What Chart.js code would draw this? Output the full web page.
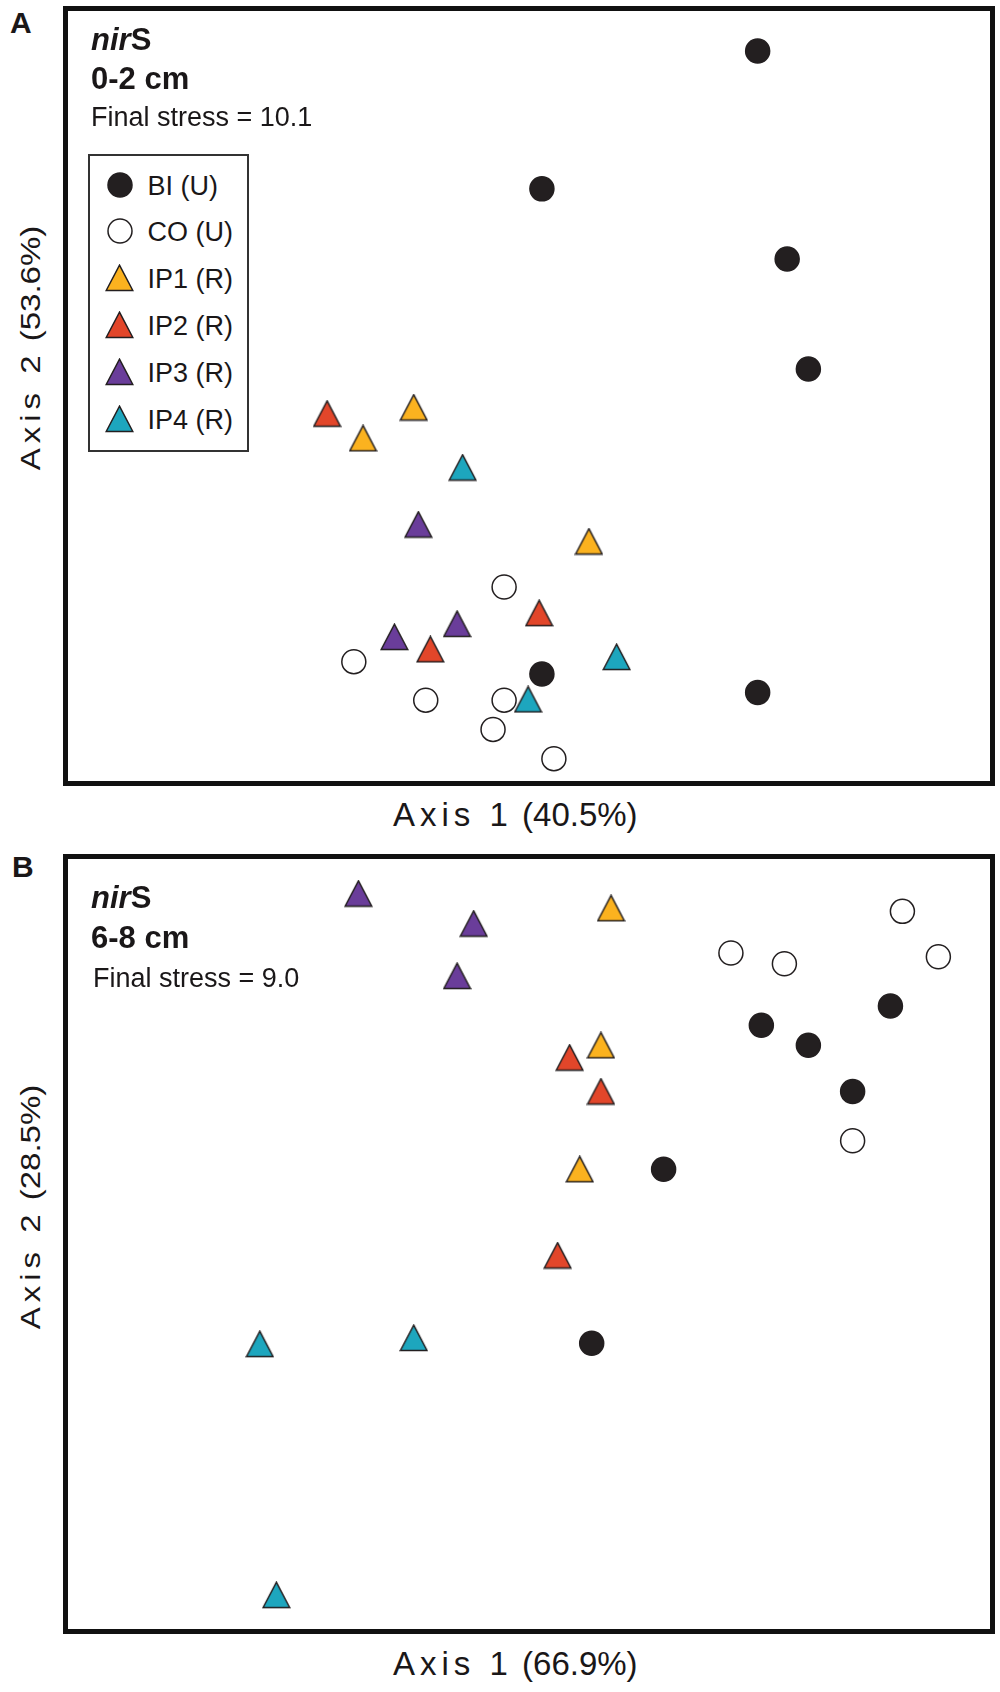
<!DOCTYPE html>
<html lang="en">
<head>
  <meta charset="UTF-8">
  <meta name="viewport" content="width=device-width, initial-scale=1.0">
  <title>nirS NMDS</title>
  <style>
    html, body { margin: 0; padding: 0; background: #fff; }
    body {
      width: 1000px; height: 1692px; position: relative; overflow: hidden;
      font-family: "Liberation Sans", Arial, Helvetica, sans-serif; color: #1a1718;
    }
    .panel {
      position: absolute; left: 63px; width: 932px; height: 780px;
      box-sizing: border-box; border: 5px solid #111;
    }
    .plot { position: absolute; left: 0; top: 0; width: 922px; height: 770px; }
    .txt { position: absolute; white-space: nowrap; line-height: 1; }
    .letter { font-weight: bold; font-size: 30px; }
    .head { font-weight: bold; font-size: 31px; }
    .stress { font-size: 27px; }
    .xtitle { font-size: 33px; }
    .ytitle { font-size: 33px; transform: translate(-50%, -50%) rotate(-90deg) scaleY(0.85); }
    .spaced { letter-spacing: 5px; }
    .legend {
      position: absolute; left: 88px; top: 154px; width: 161px; height: 298px;
      box-sizing: border-box; border: 2.5px solid #333; background: #fff;
    }
    .legend-row {
      position: absolute; left: 0; height: 28px; display: flex; align-items: center;
      font-size: 27px; line-height: 28px; white-space: nowrap;
    }
    .legend-row canvas { position: absolute; }
  </style>
</head>
<body>
  <div class="txt letter" style="left:10px; top:8px;">A</div>
  <div class="panel" style="top:6px;">
    <div class="plot"><canvas id="surface"></canvas></div>
  </div>
  <div class="txt head" style="left:91px; top:24px;"><i>nir</i>S</div>
  <div class="txt head" style="left:91px; top:63px;">0-2 cm</div>
  <div class="txt stress" style="left:91px; top:104px;">Final stress = 10.1</div>
  <div class="legend" id="legend"></div>
  <div class="txt xtitle" style="left:393px; top:798px;"><span class="spaced">Axis 1</span> (40.5%)</div>
  <div class="txt ytitle" style="left:30px; top:348px;"><span class="spaced">Axis 2</span> (53.6%)</div>

  <div class="txt letter" style="left:12px; top:852px;">B</div>
  <div class="panel" style="top:854px;">
    <div class="plot"><canvas id="deep"></canvas></div>
  </div>
  <div class="txt head" style="left:91px; top:882px;"><i>nir</i>S</div>
  <div class="txt head" style="left:91px; top:922px;">6-8 cm</div>
  <div class="txt stress" style="left:93px; top:965px;">Final stress = 9.0</div>
  <div class="txt xtitle" style="left:393px; top:1647px;"><span class="spaced">Axis 1</span> (66.9%)</div>
  <div class="txt ytitle" style="left:30px; top:1207px;"><span class="spaced">Axis 2</span> (28.5%)</div>

  <script src="https://cdn.jsdelivr.net/npm/chart.js@4/dist/chart.umd.min.js"></script>
  <script>
    const groups = ['BI (U)', 'CO (U)', 'IP1 (R)', 'IP2 (R)', 'IP3 (R)', 'IP4 (R)'];

    // NMDS scores, both axes on a 0-100 frame
    // A: 0-2 cm
    const surfBI = [[74.8, 94.8], [51.4, 76.9], [78.0, 67.8], [80.3, 53.5], [51.4, 13.9], [74.8, 11.5]];
    const surfCO = [[31.0, 15.5], [38.8, 10.5], [47.3, 25.2], [47.3, 10.5], [46.1, 6.7], [52.7, 2.9]];
    const surfIP1 = [[37.5, 48.5], [32.0, 44.5], [56.5, 31.1]];
    const surfIP2 = [[28.1, 47.7], [39.3, 17.1], [51.1, 21.8]];
    const surfIP3 = [[38.0, 33.3], [35.4, 18.7], [42.2, 20.4]];
    const surfIP4 = [[42.8, 40.7], [59.5, 16.1], [49.9, 10.6]];

    // B: 6-8 cm
    const deepBI = [[89.2, 80.9], [75.2, 78.4], [80.3, 75.8], [85.1, 69.8], [64.6, 59.7], [56.8, 37.1]];
    const deepCO = [[90.5, 93.2], [71.9, 87.8], [77.7, 86.4], [94.4, 87.3], [85.1, 63.4]];
    const deepIP1 = [[58.9, 93.6], [57.8, 75.8], [55.5, 59.7]];
    const deepIP2 = [[54.4, 74.2], [57.8, 69.8], [53.1, 48.5]];
    const deepIP3 = [[31.5, 95.5], [44.0, 91.6], [42.2, 84.8]];
    const deepIP4 = [[20.8, 37.0], [37.5, 37.8], [22.6, 4.4]];

    const fills = ['#231f20', '#ffffff', '#fbb21f', '#e2462a', '#6a3d9a', '#1da6be'];
    const shapes = ['circle', 'circle', 'triangle', 'triangle', 'triangle', 'triangle'];
    const edge = '#231f20';

    function triangle(fill) {
      const c = document.createElement('canvas');
      c.width = 29;
      c.height = 28;
      const ctx = c.getContext('2d');
      ctx.beginPath();
      ctx.moveTo(14.5, 1.2);
      ctx.lineTo(27.8, 26.5);
      ctx.lineTo(1.2, 26.5);
      ctx.closePath();
      ctx.fillStyle = fill;
      ctx.fill();
      ctx.lineWidth = 1.5;
      ctx.strokeStyle = edge;
      ctx.stroke();
      return c;
    }

    function circle(fill) {
      const c = document.createElement('canvas');
      c.width = 28;
      c.height = 28;
      const ctx = c.getContext('2d');
      ctx.beginPath();
      ctx.arc(14, 14, 12, 0, Math.PI * 2);
      ctx.fillStyle = fill;
      ctx.fill();
      ctx.lineWidth = 1.5;
      ctx.strokeStyle = edge;
      ctx.stroke();
      return c;
    }

    function makeChart(id, series) {
      const datasets = series.map((pts, i) => ({
        label: groups[i],
        data: pts.map(([x, y]) => ({ x, y })),
        pointStyle: shapes[i] === 'circle' ? 'circle' : triangle(fills[i]),
        pointRadius: 12,
        pointBackgroundColor: fills[i],
        pointBorderColor: edge,
        pointBorderWidth: 1.5,
        order: shapes[i] === 'circle' ? 2 : 1,
        clip: false,
      }));
      return new Chart(document.getElementById(id), {
        type: 'scatter',
        data: { datasets },
        options: {
          responsive: true,
          maintainAspectRatio: false,
          animation: false,
          events: [],
          layout: { autoPadding: false, padding: 0 },
          plugins: { legend: { display: false }, tooltip: { enabled: false } },
          scales: {
            x: { type: 'linear', min: 0, max: 100, display: false },
            y: { type: 'linear', min: 0, max: 100, display: false },
          },
        },
      });
    }

    makeChart('surface', [surfBI, surfCO, surfIP1, surfIP2, surfIP3, surfIP4]);
    makeChart('deep', [deepBI, deepCO, deepIP1, deepIP2, deepIP3, deepIP4]);

    // legend box inside panel A
    const $legend = document.querySelector('#legend');
    groups.forEach((name, i) => {
      const row = document.createElement('div');
      row.className = 'legend-row';
      row.style.top = (185 + i * 46.8 - 154 - 2.5 - 14 + 1) + 'px';
      const mark = shapes[i] === 'circle' ? circle(fills[i]) : triangle(fills[i]);
      mark.style.left = (120 - 88 - 2.5 - mark.width / 2) + 'px';
      mark.style.top = (14 - 1 - mark.height / 2) + 'px';
      row.appendChild(mark);
      const label = document.createElement('span');
      label.textContent = name;
      label.style.marginLeft = (148 - 88 - 2.5) + 'px';
      row.appendChild(label);
      $legend.appendChild(row);
    });
  </script>
</body>
</html>
